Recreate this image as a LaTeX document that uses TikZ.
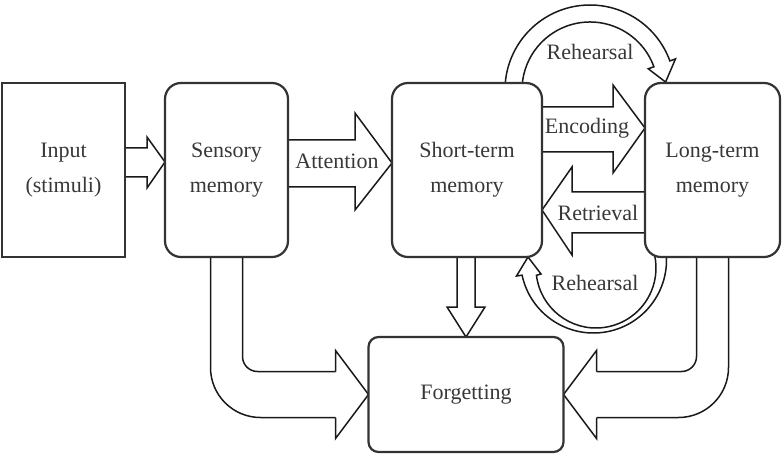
\documentclass[tikz,border=0pt]{standalone}
\usepackage{fontspec}
\setmainfont{Liberation Serif}
\usetikzlibrary{calc,backgrounds}
\tikzset{
    block/.style = {draw=black!80, line width=2.2pt, fill=white,
        inner sep=0pt, outer sep=0pt,
        minimum height=174pt, align=center, text=black!78,
        font=\fontsize{22}{35}\selectfont},
    memblock/.style = {block, rounded corners=16pt},
    fatarrow/.style = {draw=black!90, line width=1.5pt, line join=miter},
    lbl/.style = {inner sep=0pt, text=black!78, font=\fontsize{22}{26}\selectfont}
}

\begin{document}
\begin{tikzpicture}[x=1pt,y=-1pt]
    \useasboundingbox (0,0) rectangle (782,457);
    \node[block, minimum width=123pt] (input) at (63.5,170) {Input\\(stimuli)};
    \node[memblock, minimum width=123pt] (sensory) at (226.5,170) {Sensory\\memory};
    \node[memblock, minimum width=150pt] (stm) at (467,170) {Short-term\\memory};
    \node[memblock, minimum width=135pt] (ltm) at (712.5,170) {Long-term\\memory};
    \node[memblock, rounded corners=10pt, minimum width=195pt, minimum height=115pt] (forget) at (466,394.5) {Forgetting};
    \coordinate (toploop) at ($(stm.north east)!.5!(ltm.north west)+(-3.5,7)$);
    \coordinate (botloop) at ($(stm.south east)!.5!(ltm.south west)+(0,3)$);
    \coordinate (botinner) at ($(botloop)+(2.5,8)$);

    \begin{scope}[on background layer]
        \draw[fatarrow] ($(input.east)+(0,-22)$) -- ++(22,0) -- ++(0,-11) -- ($(sensory.west)+(0,-8)$) -- ++(-18,26) -- ++(0,-11) -- ($(input.east)+(0,7)$) -- cycle;
        \draw[fatarrow] ($(sensory.east)+(0,-30)$) -- ++(67,0) -- ++(0,-27) -- ($(stm.west)+(0,-7)$) -- ++(-37,47) -- ++(0,-23) -- ($(sensory.east)+(0,17)$) -- cycle;
        \draw[fatarrow] ($(stm.east)+(0,-63)$) -- ++(71,0) -- ++(0,-22) -- ($(ltm.west)+(0,-42)$) -- ++(-32,45) -- ++(0,-21) -- ($(stm.east)+(0,-18)$) -- cycle;
        \draw[fatarrow] ($(ltm.west)+(0,22)$) -- ++(-73,0) -- ++(0,-25) -- ($(stm.east)+(0,40)$) -- ++(30,45) -- ++(0,-22) -- ($(ltm.west)+(0,63)$) -- cycle;
        \draw[fatarrow] ($(stm.south)+(-10,0)$) -- ++(0,50) -- ++(-10,0) -- (forget.north) -- ++(19,-30) -- ++(-10,0) -- ($(stm.south)+(8,0)$) -- cycle;

        \draw[fatarrow, rounded corners=15pt] ($(sensory.south)+(16,0)$) |- ($(forget.west)+(-33,-23)$);
        \draw[fatarrow, rounded corners=50pt] ($(sensory.south)+(-16,0)$) |- ($(forget.west)+(-33,23)$);
        \draw[fatarrow] ($(forget.west)+(-33,-23)$) -- ++(0,-21) -- (forget.west) -- ++(-33,44) -- ++(0,-21);

        \draw[fatarrow, rounded corners=15pt] ($(ltm.south)+(-16,0)$) |- ($(forget.east)+(33,-23)$);
        \draw[fatarrow, rounded corners=50pt] ($(ltm.south)+(16,0)$) |- ($(forget.east)+(33,23)$);
        \draw[fatarrow] ($(forget.east)+(33,-23)$) -- ++(0,-21) -- (forget.east) -- ++(33,44) -- ++(0,-21);

        \draw[fatarrow] ($(toploop)+(180:85)$) arc[start angle=180, end angle=340, radius=85]
            -- ($(toploop)+(340:91)$) -- ($(toploop)+(354:76)$) -- ($(toploop)+(340:62)$)
            -- ($(toploop)+(340:68)$) arc[start angle=340, end angle=180, radius=68] -- cycle;
        \draw[fatarrow] ($(botloop)+(-10:73)$) arc[start angle=-10, end angle=168, radius=73]
            -- ($(botloop)+(-77,16)$) -- ($(botloop)+(-65.5,-3)$) -- ($(botloop)+(-52.5,14)$)
            -- ($(botinner)+(173:60)$) arc[start angle=173, end angle=-17.5, radius=60] -- cycle;
    \end{scope}

    \node[lbl] (attention) at (337,161) {Attention};
    \node[lbl] (encoding) at (587,128) {Encoding};
    \node[lbl] (retrieval) at (598,213) {Retrieval};
    \node[lbl] (rehearsaltop) at (590,52) {Rehearsal};
    \node[lbl] (rehearsalbot) at (595,283) {Rehearsal};
\end{tikzpicture}
\end{document}
